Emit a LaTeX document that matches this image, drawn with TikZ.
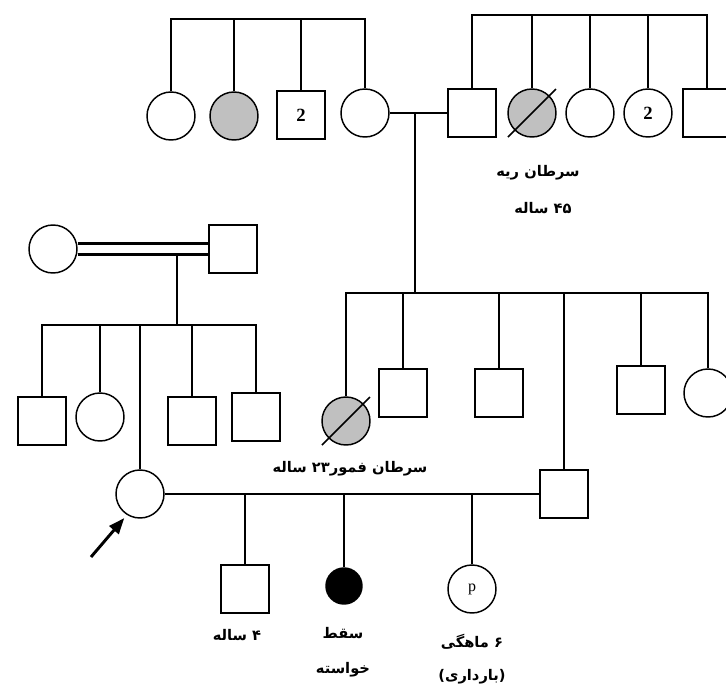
\documentclass[tikz,border=0pt]{standalone}
\usepackage{fontspec}
\usetikzlibrary{arrows.meta}
\TeXXeTstate=1
\newfontfamily\arabicfont[Script=Arabic]{DejaVu Sans}
\newfontfamily\numfont{Liberation Serif}
\definecolor{affgray}{RGB}{192,192,192}
\tikzstyle{female}=[circle,draw=black,fill=white,inner sep=0pt,minimum size=36pt]
\tikzstyle{male}=[rectangle,draw=black,fill=white,inner sep=0pt,minimum size=36pt]
\tikzstyle{affected}=[fill=affgray]
\tikzstyle{lost}=[circle,draw=black,fill=black,inner sep=0pt,minimum size=27pt]
\tikzstyle{count}=[font=\numfont\bfseries\fontsize{14}{16}\selectfont]
\tikzstyle{note}=[inner sep=0pt,font=\arabicfont\bfseries\fontsize{11}{13}\selectfont]
\tikzstyle{pointer}=[-{Triangle[length=12pt,width=9pt]},line width=2.2pt,shorten >=3pt]

\begin{document}
\begin{tikzpicture}[x=0.75pt,y=-0.75pt,line width=1.1pt]
			\useasboundingbox (0,0) rectangle (726,687);
			
			% grandmother and her sibs
			\coordinate (sibA) at (172,19);
			\node (gmsib1) at (171,116) [female] {};
			\node (gmsib2) at (234,116) [female,affected] {};
			\node (gmsib3) at (301,115) [male,count] {2};
			\node (gm) at (365,113) [female] {};
			
			\draw (gmsib1) |- (gm |- sibA) -- (gm);
			\draw (gmsib2) -- (gmsib2 |- sibA);
			\draw (gmsib3) -- (gmsib3 |- sibA);
			
			% grandfather and his sibs
			\coordinate (sibB) at (473,15);
			\node (gf) at (472,113) [male] {};
			\node (gfsib1) at (532,113) [female,affected] {};
			\node (gfsib2) at (590,113) [female] {};
			\node (gfsib3) at (648,113) [female,count] {2};
			\node (gfsib4) at (707,113) [male] {};
			
			\draw (gf) |- (gfsib4 |- sibB) -- (gfsib4);
			\draw (gfsib1) -- (gfsib1 |- sibB);
			\draw (gfsib2) -- (gfsib2 |- sibB);
			\draw (gfsib3) -- (gfsib3 |- sibB);
			\draw (gfsib1.center) +(-24,24) -- +(24,-24);
			
			\node (lunglab) at (538,173) [note] {\beginR سرطان ریه\endR};
			\node (lungage) at (543,208) [note] {\beginR ۴۵ ساله\endR};
			
			% their children
			\draw (gm) -- (gf);
			\coordinate (m1) at (415,113);
			\coordinate (sibC) at (347,293);
			\draw (m1) -- (m1 |- sibC);
			
			\node (ch1) at (346,421) [female,affected] {};
			\node (ch2) at (403,393) [male] {};
			\node (ch3) at (499,393) [male] {};
			\node (hus) at (564,494) [male] {};
			\node (ch5) at (641,390) [male] {};
			\node (ch6) at (708,393) [female] {};
			
			\draw (ch1) |- (ch6 |- sibC) -- (ch6);
			\draw (ch2) -- (ch2 |- sibC);
			\draw (ch3) -- (ch3 |- sibC);
			\draw (hus) -- (hus |- sibC);
			\draw (ch5) -- (ch5 |- sibC);
			\draw (ch1.center) +(-24,24) -- +(24,-24);
			
			\node (femurlab) at (350,469) [note] {\beginR سرطان فمور۲۳ ساله\endR};
			
			% proband's parents
			\node (pgm) at (53,249) [female] {};
			\node (pgf) at (233,249) [male] {};
			\draw [line width=2pt] ([yshift=4pt]pgm.east) -- ([yshift=4pt]pgf.west);
			\draw [line width=2pt] ([yshift=-4pt]pgm.east) -- ([yshift=-4pt]pgf.west);
			\coordinate (m2) at (177,254);
			\coordinate (sibD) at (43,325);
			\draw (m2) -- (m2 |- sibD);
			
			\node (s1) at (42,421) [male] {};
			\node (s2) at (100,417) [female] {};
			\node (proband) at (140,494) [female] {};
			\node (s4) at (192,421) [male] {};
			\node (s5) at (256,417) [male] {};
			
			\draw (s1) |- (s5 |- sibD) -- (s5);
			\draw (s2) -- (s2 |- sibD);
			\draw (proband) -- (proband |- sibD);
			\draw (s4) -- (s4 |- sibD);
			
			\coordinate (arr) at (91,557);
			\draw [pointer] (arr) -- (proband.238);
			
			% proband's children
			\draw (proband) -- (hus);
			\node (kid1) at (245,589) [male] {};
			\node (kid2) at (344,586) [lost] {};
			\node (kid3) at (472,589) [female,font=\numfont\fontsize{12}{14}\selectfont] {p};
			
			\draw (kid1) -- (kid1 |- proband);
			\draw (kid2) -- (kid2 |- proband);
			\draw (kid3) -- (kid3 |- proband);
			
			\node (kidage) at (237,635) [note] {\beginR ۴ ساله\endR};
			\node (lost1) at (343,633) [note] {\beginR سقط\endR};
			\node (lost2) at (343,670) [note] {\beginR خواسته\endR};
			\node (preg1) at (472,642) [note] {\beginR ۶ ماهگی\endR};
			\node (preg2) at (472,677) [note] {\beginR (بارداری)\endR};
		\end{tikzpicture}
\end{document}
